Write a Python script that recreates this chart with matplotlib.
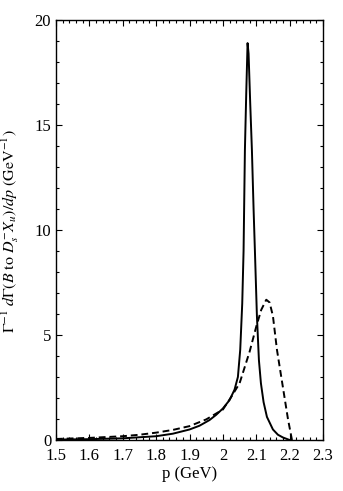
import matplotlib
matplotlib.use("Agg")
import matplotlib.pyplot as plt
from matplotlib.ticker import MultipleLocator

plt.rcParams['font.family'] = ['Liberation Serif', 'DejaVu Serif']
plt.rcParams['mathtext.fontset'] = 'stix'

# solid curve
p_solid = [1.5, 1.6, 1.7, 1.8, 1.85, 1.9, 1.93, 1.96, 1.98, 2.0, 2.02, 2.035,
           2.045, 2.052, 2.058, 2.062, 2.066, 2.07, 2.074, 2.077, 2.082, 2.087,
           2.092, 2.096, 2.102, 2.108, 2.114, 2.122, 2.132, 2.15, 2.165, 2.18, 2.2]
g_solid = [0.02, 0.04, 0.08, 0.18, 0.3, 0.5, 0.68, 0.95, 1.2, 1.5, 1.9, 2.4,
           3.0, 4.3, 6.5, 9.0, 13.8, 16.5, 18.9, 18.4, 16.0, 13.8,
           11.0, 9.0, 5.9, 3.8, 2.7, 1.8, 1.1, 0.5, 0.25, 0.12, 0.0]

# dashed curve
p_dash = [1.5, 1.6, 1.7, 1.75, 1.8, 1.85, 1.9, 1.95, 2.0, 2.025, 2.05, 2.08,
          2.1, 2.115, 2.13, 2.14, 2.15, 2.162, 2.175, 2.186, 2.195, 2.207]
g_dash = [0.05, 0.1, 0.18, 0.25, 0.35, 0.48, 0.66, 0.98, 1.45, 2.05, 2.7, 4.2,
          5.4, 6.2, 6.68, 6.55, 5.9, 4.3, 3.0, 1.9, 1.0, 0.0]

fig = plt.figure(figsize=(3.43, 4.91), dpi=100)
ax = fig.add_axes([56 / 343, 51 / 491, 267 / 343, 420 / 491])

ax.plot(p_solid, g_solid, color='black', lw=1.4)
ax.plot(p_dash, g_dash, color='black', lw=1.4, linestyle=(0, (3.5, 2)))

ax.set_xlim(1.5, 2.3)
ax.set_ylim(0, 20)
ax.xaxis.set_major_locator(MultipleLocator(0.1))
ax.xaxis.set_minor_locator(MultipleLocator(0.02))
ax.yaxis.set_major_locator(MultipleLocator(5))
ax.yaxis.set_minor_locator(MultipleLocator(1))
ax.set_xticks([1.5, 1.6, 1.7, 1.8, 1.9, 2.0, 2.1, 2.2, 2.3])
ax.set_xticklabels(['1.5', '1.6', '1.7', '1.8', '1.9', '2', '2.1', '2.2', '2.3'])

ax.tick_params(which='both', direction='in', top=True, right=True, labelsize=12)
ax.tick_params(which='major', length=4, width=0.8)
ax.tick_params(which='minor', length=2, width=0.8)
ax.tick_params(axis='x', pad=6)
for s in ax.spines.values():
    s.set_linewidth(1.0)

ax.set_xlabel('p (GeV)', fontsize=12, labelpad=1)
fig.text(10 / 343, 0.53,
         r'$\Gamma^{-1}\ d\Gamma(B\ \mathrm{to}\ D^{-}_{s}X_{u})/dp\ (\mathrm{GeV}^{-1})$',
         rotation=90, ha='center', va='center', fontsize=11.5)

fig.savefig('out.png', dpi=100)
